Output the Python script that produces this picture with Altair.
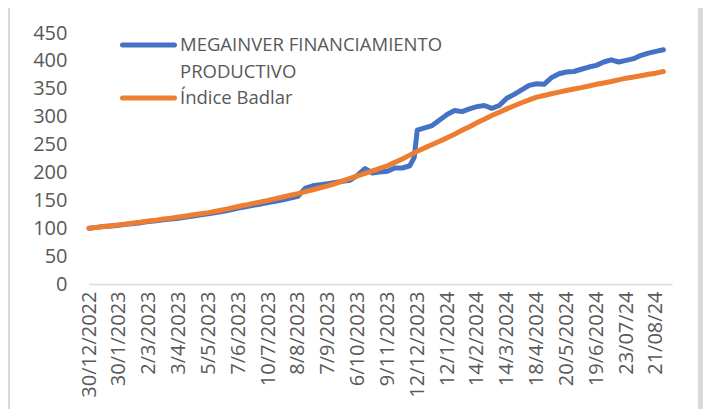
import json
import altair as alt
import pandas as pd

# ---- data ----
x_labels = ["30/12/2022", "30/1/2023", "2/3/2023", "3/4/2023", "5/5/2023", "7/6/2023",
            "10/7/2023", "8/8/2023", "7/9/2023", "6/10/2023", "9/11/2023", "12/12/2023",
            "12/1/2024", "14/2/2024", "14/3/2024", "18/4/2024", "20/5/2024", "19/6/2024",
            "23/07/24", "21/08/24"]
series_names = ["MEGAINVER FINANCIAMIENTO PRODUCTIVO", "Índice Badlar"]
legend_lines = [["MEGAINVER FINANCIAMIENTO", "PRODUCTIVO"], ["Índice Badlar"]]
colors = ["#4472C4", "#ED7D31"]

badlar_idx = list(range(78))
badlar_vals = [100, 101.5, 103, 104.5, 106, 107.5, 109.5, 111, 113, 114.5,
               116.5, 118, 120, 122, 124, 126, 128, 130.5, 133, 136,
               139, 141.5, 144.5, 147, 150, 153, 156, 159, 162, 165.5,
               169, 172.5, 176, 180, 185, 189.5, 194, 198.5, 203, 207.5,
               212, 218, 224, 231, 238, 244, 250, 256, 262, 268.5,
               275.5, 282, 289, 295.5, 302, 308, 314, 319.5, 325, 330,
               335, 338, 341, 344, 347, 349.5, 352, 355, 358, 360.5,
               363, 366, 369, 371, 373.5, 376, 378, 381]

mega_idx = list(range(44)) + [43.6] + list(range(44, 78))
mega_vals = [100, 101.5, 103, 104, 105.5, 107, 108.5, 110, 112, 113.5,
             115, 116.5, 118, 120, 122, 124, 126, 128, 130.5, 133,
             136, 138.5, 141, 143.5, 146, 148.5, 151, 154, 157,
             172, 176, 178, 180, 182, 184, 186, 195, 207, 199, 201, 202, 208, 208, 212,
             227,
             276, 280, 284, 294, 304, 311, 309, 314, 318, 320, 315, 320, 333, 340, 348,
             356, 359, 358, 370, 377, 380, 381, 385, 389, 392, 398, 402, 398, 401, 404,
             410, 414, 417, 420]

mega_df = pd.DataFrame({"i": mega_idx, "v": mega_vals, "s": series_names[0]})
badlar_df = pd.DataFrame({"i": badlar_idx, "v": badlar_vals, "s": series_names[1]})
one = pd.DataFrame({"k": [0]})

FONT = "Open Sans"
GREY = "#595959"

label_js = json.dumps(x_labels)
tick_vals = [4 * k for k in range(len(x_labels))]

x_enc = alt.X("i:Q",
              scale=alt.Scale(domain=[0, 78.15], nice=False, zero=False),
              axis=alt.Axis(values=tick_vals, labelExpr=f"{label_js}[round(datum.value/4)]",
                            labelAngle=270, labelAlign="right", labelBaseline="middle",
                            labelPadding=7, ticks=False, grid=False, domain=True,
                            domainColor="#D9D9D9", domainWidth=1.3,
                            labelFont=FONT, labelFontSize=20, labelColor=GREY,
                            labelOverlap=False, title=None))
y_enc = alt.Y("v:Q",
              scale=alt.Scale(domain=[0, 450], nice=False),
              axis=alt.Axis(values=list(range(0, 451, 50)), ticks=False, grid=False,
                            domain=False, labelPadding=22, labelFont=FONT,
                            labelFontSize=20, labelColor=GREY, title=None))
color_enc = alt.Color("s:N", scale=alt.Scale(domain=series_names, range=colors), legend=None)

line = dict(strokeWidth=5, strokeCap="round", strokeJoin="round")
mega = alt.Chart(mega_df).mark_line(**line).encode(x=x_enc, y=y_enc, color=color_enc)
badlar = alt.Chart(badlar_df).mark_line(**line).encode(x=x_enc, y=y_enc, color=color_enc)

# legend (drawn inside the plot, top-left, as in the reference)
leg_layers = []
for k, (lines, col) in enumerate(zip(legend_lines, colors)):
    ypos = 12 + 53 * k
    leg_layers.append(
        alt.Chart(one).mark_rule(strokeWidth=5, strokeCap="round", color=col)
        .encode(x=alt.value(33.5), x2=alt.value(85.5), y=alt.value(ypos)))
    leg_layers.append(
        alt.Chart(one).mark_text(align="left", baseline="middle", font=FONT, fontSize=18.5,
                                 color=GREY, lineHeight=26.5)
        .encode(x=alt.value(91), y=alt.value(ypos), text=alt.value(lines)))

# light grey chart frame (left / right edges)
frame = alt.Chart(one).mark_rect(fill=None, stroke="#D9D9D9", strokeWidth=5).encode(
    x=alt.value(-81.5), x2=alt.value(611.4), y=alt.value(-45), y2=alt.value(420))

chart = alt.layer(frame, mega, badlar, *leg_layers).properties(
    width=583, height=251,
    autosize=alt.AutoSizeParams(type="none"),
    padding={"left": 81, "top": 25, "right": 31, "bottom": 125},
    background="white",
).configure_view(stroke=None)

chart.save("out.html", embed_options={"renderer": "svg", "actions": False})
